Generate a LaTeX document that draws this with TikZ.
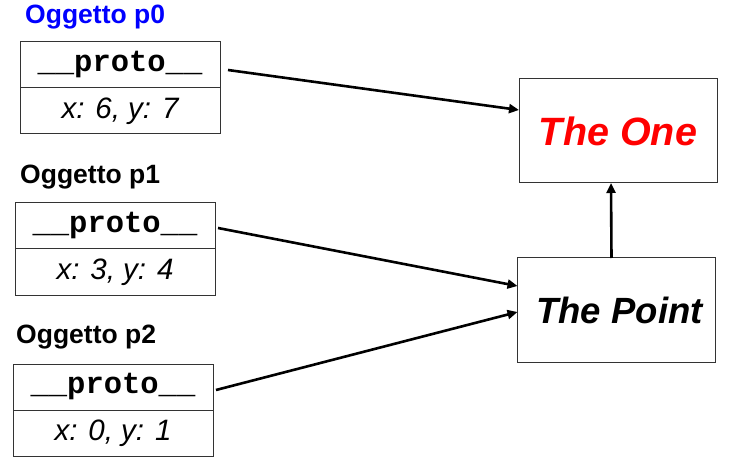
\documentclass[tikz,border=0pt]{standalone}
\usepackage{fontspec}
\setmainfont{Liberation Sans}
\setmonofont{Liberation Mono}
\usetikzlibrary{positioning,arrows.meta}
\tikzset{
  protobox/.style={draw=black!80, line width=1pt, minimum width=200pt, minimum height=46pt,
    inner sep=0pt, outer sep=0pt, font=\fontsize{30.5}{34}\selectfont\ttfamily\bfseries},
  xybox/.style={draw=black!80, line width=1pt, minimum width=200pt, minimum height=46pt,
    inner sep=0pt, outer sep=0pt, font=\fontsize{29.5}{34}\selectfont\itshape},
  objlabel/.style={anchor=west, inner sep=0pt, font=\fontsize{26.5}{30}\selectfont\bfseries},
  bigbox/.style={draw=black!80, line width=1pt, minimum width=198pt, minimum height=104pt,
    inner sep=0pt, outer sep=0pt, font=\bfseries\itshape},
  link/.style={line width=2.6pt, -{Triangle[length=10pt,width=9pt]}}
}
\begin{document}
\begin{tikzpicture}[x=1pt, y=-1pt]
  \useasboundingbox (0,0) rectangle (731,465);
  % object p0
  \node[objlabel, text=blue] (l0) at (25,17) {Oggetto p0};
  \node[protobox] (p0proto) at (120,65) {\_\_proto\_\_};
  \node[xybox, below=0pt of p0proto] (p0xy) {x: 6, y: 7};
  % object p1
  \node[objlabel] (l1) at (20,177) {Oggetto p1};
  \node[protobox] (p1proto) at (115,226) {\_\_proto\_\_};
  \node[xybox, below=0pt of p1proto] (p1xy) {x: 3, y: 4};
  % object p2
  \node[objlabel] (l2) at (16,337) {Oggetto p2};
  \node[protobox] (p2proto) at (113,387) {\_\_proto\_\_};
  \node[xybox, below=0pt of p2proto] (p2xy) {x: 0, y: 1};
  %
  \node[bigbox, text=red, font=\fontsize{39.5}{44}\selectfont\bfseries\itshape] (one) at (618,131) {The One};   % prototypes
  \node[bigbox, font=\fontsize{36.5}{42}\selectfont\bfseries\itshape] (point) at (616.5,310) {\hspace{6pt}The Point};
  %
  \draw[link] ([xshift=8pt,yshift=-5pt]p0proto.east) -- ([yshift=21pt]one.west);
  \draw[link] ([xshift=3pt,yshift=-2pt]p1proto.east) -- ([yshift=24pt]point.west);
  \draw[link] ([xshift=3pt,yshift=-3pt]p2proto.east) -- ([yshift=-2pt]point.west);
  \draw[link] ([xshift=-5pt]point.north) -- ([xshift=-7pt]one.south);
\end{tikzpicture}
\end{document}
